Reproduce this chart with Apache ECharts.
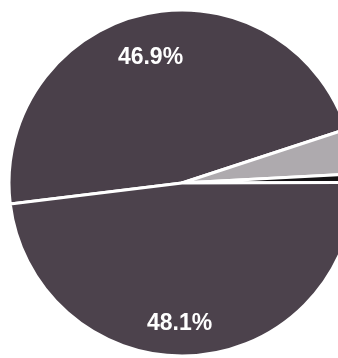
<!DOCTYPE html>
<html>
<head>
<meta charset="utf-8">
<script src="https://cdn.jsdelivr.net/npm/echarts@6/dist/echarts.min.js"></script>
<style>
html,body{margin:0;padding:0;background:#fff;}
#chart{width:338px;height:358px;}
</style>
</head>
<body>
<div id="chart"></div>
<script>
// Data
const categories = ['A', 'B', 'C', 'D'];
const values = [46.9, 4.2, 0.8, 48.1];
const labels = ['46.9%', '', '', '48.1%'];

// Styles
const sliceColors = ['#4a404a', '#aeaaae', '#141214', '#4c424c'];
const labelOffsets = [[-12, -38], [0, 0], [0, 0], [-8, 51]];

const chart = echarts.init(document.getElementById('chart'), null, {renderer: 'canvas'});
chart.setOption({
  animation: false,
  backgroundColor: '#ffffff',
  series: [{
    type: 'pie',
    center: [182, 183],
    radius: [0, 173],
    startAngle: 187,
    clockwise: true,
    avoidLabelOverlap: false,
    itemStyle: {borderColor: '#ffffff', borderWidth: 3},
    label: {
      show: true,
      position: 'inside',
      color: '#ffffff',
      fontFamily: 'Liberation Sans, Arial, sans-serif',
      fontWeight: 'bold',
      fontSize: 23,
      formatter: function (p) { return labels[p.dataIndex]; }
    },
    labelLine: {show: false},
    labelLayout: function (p) {
      const o = labelOffsets[p.dataIndex];
      return {dx: o[0], dy: o[1]};
    },
    emphasis: {disabled: true},
    data: categories.map(function (c, i) {
      return {name: c, value: values[i], itemStyle: {color: sliceColors[i]}};
    })
  }]
});
</script>
</body>
</html>
